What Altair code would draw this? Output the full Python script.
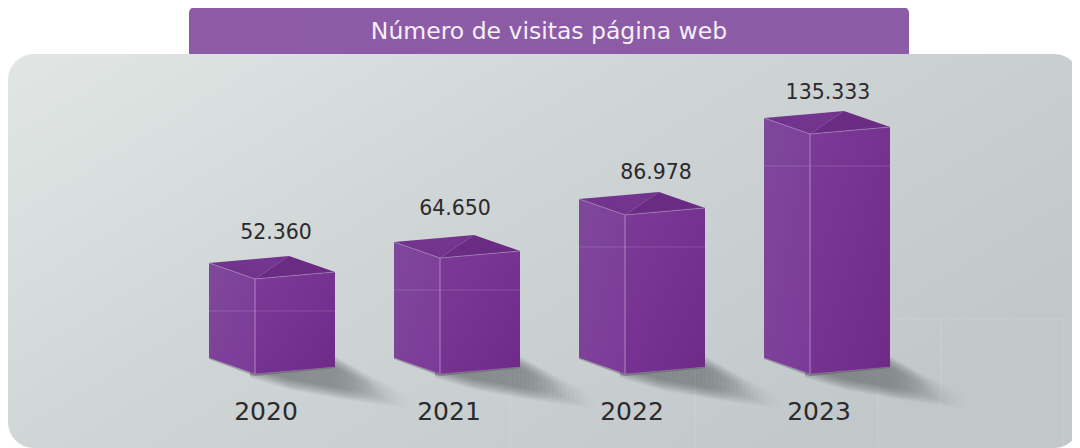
import altair as alt
import pandas as pd

title_text = "Número de visitas página web"
years = ["2020", "2021", "2022", "2023"]
visits = [52360, 64650, 86978, 135333]
visit_labels = ["52.360", "64.650", "86.978", "135.333"]
# bar heights as drawn in the picture, expressed in visits (picture is not strictly to scale)
drawn_visits = [53600, 65400, 89700, 135333]

# ---------- layout, in page pixels ----------
K = 135333 / 240          # visits per pixel
BASE = 374                # page y of the front-bottom corner
ORIGIN = 10               # page y of the chart origin (margin + padding)
HEIGHT, WIDTH = 438, 1064
FIRST, STEP = 209, 185
LEFT_W, RIGHT_W = 46, 80
LEFT_D, RIGHT_D, BACK_D = 16, 7, 23

def V(px):
    return px * K

xs = alt.Scale(domain=[8, 8 + WIDTH], range=[0, WIDTH], nice=False, zero=False)
ys = alt.Scale(domain=[V(ORIGIN + HEIGHT - BASE) * -1, V(BASE - ORIGIN)], range=[HEIGHT, 0], nice=False, zero=False)
X = alt.X("x:Q", scale=xs, axis=None)
Y = alt.Y("y:Q", scale=ys, axis=None)

def page_y(py):
    return (BASE - py) * K

def grad(stops, x1=0, y1=0, x2=1, y2=1):
    return alt.Gradient(gradient="linear", x1=x1, y1=y1, x2=x2, y2=y2,
                        stops=[alt.GradientStop(offset=o, color=c) for o, c in stops])

left_rows, right_rows, top_l, top_r, edge_top, edge_bot, vert, seam, shadow, under = [], [], [], [], [], [], [], [], [], []

shadow_x = [-5, 35, 80, 112, 150]
shadow_up = [372, 367, 362, 380, 404]
shadow_lo = [372, 384, 392, 397, 404]
N_SHADOW = 18

for i, h in enumerate(drawn_visits):
    x0 = FIRST + STEP * i
    xm = x0 + LEFT_W
    xr = xm + RIGHT_W
    xb = x0 + 80
    d = lambda px: V(px)
    left_rows += [dict(bar=i, x=x0, y=h + d(LEFT_D), y2=d(LEFT_D)), dict(bar=i, x=xm, y=h, y2=0)]
    right_rows += [dict(bar=i, x=xm, y=h, y2=0), dict(bar=i, x=xr, y=h + d(RIGHT_D), y2=d(RIGHT_D))]
    top_l += [dict(bar=i, x=x0, y=h + d(LEFT_D), y2=h + d(LEFT_D)),
              dict(bar=i, x=xm, y=h + d(20), y2=h),
              dict(bar=i, x=xb, y=h + d(BACK_D), y2=h + d(BACK_D))]
    top_r += [dict(bar=i, x=xm, y=h, y2=h),
              dict(bar=i, x=xb, y=h + d(BACK_D), y2=h + d(3)),
              dict(bar=i, x=xr, y=h + d(RIGHT_D), y2=h + d(RIGHT_D))]
    for k, (px, py) in enumerate([(x0, h + d(LEFT_D)), (xm, h), (xr, h + d(RIGHT_D))]):
        edge_top.append(dict(bar=i, o=k, x=px, y=py))
    for k, (px, py) in enumerate([(x0, d(LEFT_D)), (xm, 0), (xr, d(RIGHT_D))]):
        edge_bot.append(dict(bar=i, o=k, x=px, y=py))
    vert.append(dict(x=xm, y=h, y2=0))
    seam.append(dict(x=x0, x2=xr, y=h - d(32)))
    # soft cast shadow: nested shapes that build up to a blur
    for lay in range(N_SHADOW):
        t = lay / (N_SHADOW - 1)
        grow = 6 - 11 * t     # outer layers spill past the outline, inner ones sit inside it
        for sx, u, l in zip(shadow_x, shadow_up, shadow_lo):
            shadow.append(dict(bar=f"{i}-{lay}", x=xm + sx + (12 - 34 * t if sx == 150 else 0),
                               y=page_y(u - grow), y2=page_y(l + grow)))
    under += [dict(bar=i, x=x0, y=d(LEFT_D), y2=d(LEFT_D) - d(1)),
              dict(bar=i, x=xm, y=0, y2=-d(2)),
              dict(bar=i, x=xr, y=d(RIGHT_D), y2=d(RIGHT_D) - d(1))]

# ---------- backdrop ----------
panel = alt.Chart().mark_rect(
    cornerRadius=26,
    color=grad([(0, "#e1e6e5"), (0.45, "#d0d5d6"), (1, "#c2c7ca")], 0, 0, 1, 0.6),
).encode(x=alt.value(0), x2=alt.value(WIDTH + 8), y=alt.value(54 - ORIGIN), y2=alt.value(HEIGHT))

title_bar = alt.Chart().mark_rect(
    cornerRadiusTopLeft=6, cornerRadiusTopRight=6,
    color=grad([(0, "#8d5ba5"), (1, "#8c5ca6")], 0, 0, 1, 0),
).encode(x=alt.value(189 - 8), x2=alt.value(909 - 8), y=alt.value(7 - ORIGIN), y2=alt.value(54 - ORIGIN))

title = alt.Chart(pd.DataFrame({"t": [title_text], "x": [549], "y": [page_y(39)]})).mark_text(
    font="DejaVu Sans", fontSize=23.5, fontWeight=400, color="#f5f0f8", align="center", baseline="alphabetic",
).encode(x=X, y=Y, text="t:N")

# faint hairlines of the panel's lower right
hair_v = pd.DataFrame({"x": [510, 695, 878, 941, 1063],
                       "y": [page_y(370), page_y(370), page_y(366), page_y(319), page_y(319)],
                       "y2": [page_y(447), page_y(447), page_y(447), page_y(407), page_y(447)]})
hairs = alt.Chart(hair_v).mark_rule(color="#ffffff", opacity=0.16, strokeWidth=1).encode(x=X, y=Y, y2="y2:Q")
hair_h = alt.Chart(pd.DataFrame({"x": [891], "x2": [1063], "y": [page_y(319)]})).mark_rule(
    color="#ffffff", opacity=0.12, strokeWidth=1).encode(x=X, x2="x2:Q", y=Y)

# ---------- marks ----------
def area(rows, color, **kw):
    return alt.Chart(pd.DataFrame(rows)).mark_area(color=color, orient="vertical", **kw).encode(
        x=X, y=Y, y2="y2:Q", detail="bar:N")

shadow_layer = area(shadow, grad([(0, "rgba(55,60,62,0.034)"), (0.6, "rgba(55,60,62,0.03)"), (1, "rgba(55,60,62,0)")], 0, 0, 1, 0))
under_layer = area(under, "#3c4143", opacity=0.35)
left_layer = area(left_rows, grad([(0, "#7f489c"), (1, "#7c3a98")], 0, 0, 1, 1))
right_layer = area(right_rows, grad([(0, "#7c3a97"), (1, "#6f2a89")], 0, 0, 1, 1))
top_l_layer = area(top_l, grad([(0, "#6f3088"), (0.75, "#743691"), (1, "#6f3189")], 0, 1, 1, 0))
top_r_layer = area(top_r, "#6a2b82")

edge_t = alt.Chart(pd.DataFrame(edge_top)).mark_line(color="#b795c9", strokeWidth=1, opacity=0.55).encode(
    x=X, y=Y, detail="bar:N", order="o:Q")
edge_b = alt.Chart(pd.DataFrame(edge_bot)).mark_line(color="#b795c9", strokeWidth=1, opacity=0.25).encode(
    x=X, y=Y, detail="bar:N", order="o:Q")
vert_l = alt.Chart(pd.DataFrame(vert)).mark_rule(color="#b795c9", strokeWidth=1, opacity=0.85).encode(x=X, y=Y, y2="y2:Q")
seam_l = alt.Chart(pd.DataFrame(seam)).mark_rule(color="#ffffff", strokeWidth=1, opacity=0.15).encode(x=X, x2="x2:Q", y=Y)

value_nudge = [67, 61, 77, 64]
value_base = [239, 215, 179, 99]
year_nudge = [57, 55, 53, 55]
labels_v = pd.DataFrame({"t": visit_labels,
                         "x": [FIRST + STEP * i + n for i, n in enumerate(value_nudge)],
                         "y": [page_y(b) for b in value_base]})
labels_y = pd.DataFrame({"t": years,
                         "x": [FIRST + STEP * i + n for i, n in enumerate(year_nudge)],
                         "y": [page_y(420)] * 4})
value_text = alt.Chart(labels_v).mark_text(font="DejaVu Sans", fontSize=20.5, fontWeight=400, color="#2b2a2c",
                                           align="center", baseline="alphabetic").encode(x=X, y=Y, text="t:N")
year_text = alt.Chart(labels_y).mark_text(font="DejaVu Sans", fontSize=25, fontWeight=400, color="#2b2a2c",
                                          align="center", baseline="alphabetic").encode(x=X, y=Y, text="t:N")

chart = alt.layer(
    title_bar, panel, title, hairs, hair_h, shadow_layer, under_layer,
    left_layer, right_layer, seam_l, top_l_layer, top_r_layer, edge_t, edge_b, vert_l,
    value_text, year_text,
).properties(
    width=WIDTH, height=HEIGHT,
    autosize=alt.AutoSizeParams(type="none"),
    padding={"left": 0, "top": 2, "right": 0, "bottom": 0},
    background="#ffffff",
).configure_view(stroke=None)

chart.save("out.html", embed_options={"renderer": "svg", "actions": False})
